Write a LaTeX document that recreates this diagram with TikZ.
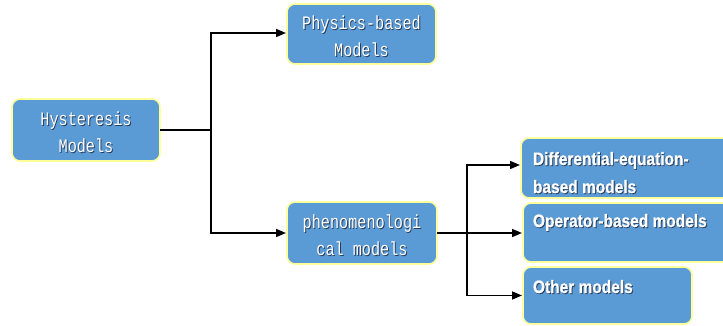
\documentclass[tikz,border=0pt]{standalone}
\usepackage{fontspec}
\usetikzlibrary{arrows.meta,calc}
\newfontfamily\boxmono[FakeStretch=0.8]{Liberation Mono}
\newfontfamily\boxnarrow[FakeStretch=0.86,FakeBold=0.8]{Liberation Sans}
\definecolor{boxblue}{RGB}{91,155,213}
\definecolor{boxedge}{RGB}{255,255,153}
\definecolor{shadowgray}{RGB}{40,60,90}
% white text with a soft drop shadow
\newcommand\shtext[1]{\leavevmode\rlap{\kern0.9pt\raisebox{-0.9pt}{\textcolor{shadowgray}{#1}}}#1}
% two centred lines, drawn slightly below the middle of the box
\newcommand\twolines[2]{\raisebox{-4pt}[\height][\depth]{\begin{tabular}{@{}c@{}}\shtext{#1}\\\shtext{#2}\end{tabular}}}
\tikzset{
  modelbox/.style={draw=boxedge, line width=1.6pt, fill=boxblue, rounded corners=8pt,
    inner sep=0pt, outer sep=0pt, text=white, align=center,
    font=\boxmono\fontsize{19}{27}\selectfont},
  sublabel/.style={anchor=north west, inner sep=0pt, outer sep=0pt, text=white, align=left,
    font=\boxnarrow\bfseries\fontsize{18}{28}\selectfont},
  link/.style={line width=1.6pt, black},
  arrowlink/.style={link, -{Triangle[length=10pt,width=8pt]}, shorten >=1pt}
}
\begin{document}
\begin{tikzpicture}[x=1pt,y=-1pt]
  \useasboundingbox (0,0) rectangle (723,325);
  \clip (0,0) rectangle (723,325);

  % main boxes
  \node[modelbox, minimum width=148pt, minimum height=62pt] (hyst) at (86,130)
    {\twolines{Hysteresis}{Models}};
  \node[modelbox, minimum width=149pt, minimum height=60pt] (phys) at (361.5,34)
    {\twolines{Physics-based}{Models}};
  \node[modelbox, minimum width=150pt, minimum height=62pt] (phen) at (362,233)
    {\twolines{phenomenologi}{cal models}};

  % sub-model boxes (partly running off the right edge)
  \node[modelbox, minimum width=239pt, minimum height=60pt] (diff) at (640.5,168) {};
  \node[modelbox, minimum width=237pt, minimum height=59pt] (oper) at (641.5,232.5) {};
  \node[modelbox, minimum width=169pt, minimum height=57pt] (other) at (607.5,295.5) {};

  \node[sublabel] (difftext) at (533,152) {\shtext{Differential-equation-}\\\shtext{based models}};
  \node[sublabel] (opertext) at (533,214) {\shtext{Operator-based models}};
  \node[sublabel] (othertext) at (533,280) {\shtext{Other models}};

  % branch points
  \coordinate (j1) at (211,130);
  \coordinate (j2) at (467,233);

  \draw[link] (hyst.east) -- (j1);
  \draw[arrowlink] (j1) |- ([yshift=1pt]phys.west);
  \draw[arrowlink] (j1) |- (phen.west);

  \draw[link] (phen.east) -- (j2);
  \draw[arrowlink] (j2) |- ([yshift=3pt]diff.west);
  \draw[arrowlink] (j2) -- (j2 -| oper.west);
  \draw[arrowlink] (j2) |- (other.west);
\end{tikzpicture}
\end{document}
